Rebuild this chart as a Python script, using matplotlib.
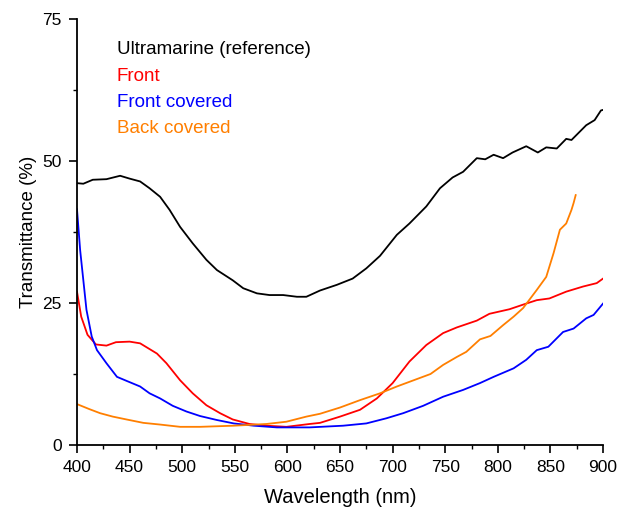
import numpy as np
import matplotlib.pyplot as plt
from matplotlib.ticker import MultipleLocator

plt.rcParams['font.family'] = ['Liberation Sans', 'DejaVu Sans']

# Ultramarine (reference)
ref_wl = [400, 406, 415, 428, 441, 450, 460, 469, 479, 488, 498, 510, 523, 533, 548,
          558, 571, 583, 596, 609, 618, 631, 647, 662, 675, 688, 704, 716, 732, 745,
          757, 767, 780, 788, 796, 805, 814, 827, 838, 846, 856, 865, 870, 884, 892,
          898, 900]
ref_t = [46.1, 46.0, 46.7, 46.8, 47.4, 46.9, 46.4, 45.2, 43.7, 41.4, 38.4, 35.5, 32.6,
         30.8, 29.0, 27.6, 26.7, 26.4, 26.4, 26.1, 26.1, 27.2, 28.2, 29.3, 31.1, 33.3,
         37.0, 39.0, 42.0, 45.2, 47.1, 48.1, 50.5, 50.3, 51.1, 50.5, 51.5, 52.6, 51.5,
         52.4, 52.2, 53.9, 53.7, 56.3, 57.2, 58.9, 59.0]

# Front
front_wl = [400, 404, 410, 418, 428, 437, 450, 460, 476, 485, 498, 510, 523, 536, 548,
            564, 580, 599, 621, 631, 650, 669, 685, 700, 716, 732, 748, 761, 780, 792,
            811, 827, 837, 849, 865, 881, 894, 900]
front_t = [27.0, 22.6, 19.4, 17.7, 17.5, 18.1, 18.2, 17.9, 16.1, 14.4, 11.4, 9.1, 7.0,
           5.6, 4.5, 3.7, 3.4, 3.2, 3.7, 3.9, 5.0, 6.2, 8.2, 10.9, 14.7, 17.6, 19.7,
           20.7, 21.9, 23.1, 23.9, 24.9, 25.5, 25.8, 27.0, 27.9, 28.5, 29.3]

# Front covered
fcov_wl = [400, 403, 409, 414, 419, 428, 438, 447, 460, 469, 479, 491, 504, 517, 533,
           549, 568, 590, 621, 653, 675, 694, 710, 729, 748, 767, 783, 796, 815, 827,
           837, 848, 862, 872, 884, 891, 900]
fcov_t = [41.5, 34.3, 23.8, 19.1, 16.7, 14.4, 12.0, 11.3, 10.3, 9.1, 8.2, 6.9, 5.9, 5.1,
          4.4, 3.8, 3.4, 3.1, 3.1, 3.4, 3.8, 4.7, 5.6, 6.9, 8.5, 9.7, 10.9, 12.0, 13.5,
          15.0, 16.7, 17.3, 19.9, 20.5, 22.3, 22.9, 24.9]

# Back covered
bcov_wl = [400, 412, 422, 434, 447, 463, 479, 498, 517, 549, 580, 599, 618, 631, 650,
           669, 688, 704, 720, 736, 748, 761, 770, 783, 793, 805, 815, 824, 837, 846,
           853, 859, 865, 870, 872, 874]
bcov_t = [7.2, 6.3, 5.6, 5.0, 4.5, 3.9, 3.6, 3.2, 3.2, 3.4, 3.7, 4.1, 5.0, 5.5, 6.6,
          7.9, 9.1, 10.3, 11.4, 12.5, 14.1, 15.5, 16.4, 18.6, 19.2, 21.1, 22.6, 24.1,
          27.3, 29.6, 33.8, 37.9, 39.0, 41.4, 42.6, 44.0]

labels = ['Ultramarine (reference)', 'Front', 'Front covered', 'Back covered']
colors = ['black', '#ff0000', '#0000ff', '#ff7f00']

fig = plt.figure(figsize=(6.27, 5.08), dpi=100)
ax = fig.add_axes([0.1228, 0.124, 0.839, 0.8386])

series = [(ref_wl, ref_t), (front_wl, front_t), (fcov_wl, fcov_t), (bcov_wl, bcov_t)]
for (wl, t), c in zip(series, colors):
    ax.plot(wl, t, color=c, lw=1.3)

ax.set_xlim(400, 900)
ax.set_ylim(0, 75)
ax.xaxis.set_major_locator(MultipleLocator(50))
ax.xaxis.set_minor_locator(MultipleLocator(25))
ax.yaxis.set_major_locator(MultipleLocator(25))
ax.yaxis.set_minor_locator(MultipleLocator(12.5))
ax.spines['top'].set_visible(False)
ax.spines['right'].set_visible(False)
ax.spines['left'].set_linewidth(1.3)
ax.spines['bottom'].set_linewidth(1.3)
ax.tick_params(which='major', direction='out', length=6, width=1.2, labelsize=12.5, pad=5)
ax.tick_params(which='minor', direction='out', length=3, width=1.0)
ax.set_xlabel('Wavelength (nm)', fontsize=14.5, labelpad=9)
ax.set_ylabel('Transmittance (%)', fontsize=13.5, labelpad=4)

# text legend
for i, (lab, c) in enumerate(zip(labels, colors)):
    ax.text(0.076, 0.928 - i * 0.062, lab, color=c, fontsize=13.5,
            transform=ax.transAxes, va='center', ha='left')

fig.savefig('out.png', dpi=100)
